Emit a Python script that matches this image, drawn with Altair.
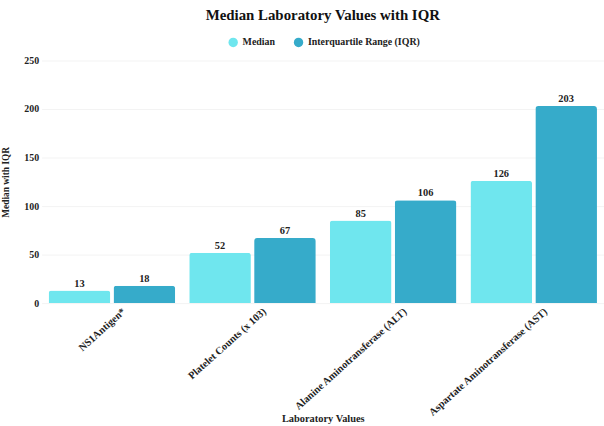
import altair as alt
import pandas as pd

categories = ["NS1Antigen*", "Platelet Counts (x 103)", "Alanine Aminotransferase (ALT)", "Aspartate Aminotransferase (AST)"]
median_values = [13, 52, 85, 126]
iqr_values = [18, 67, 106, 203]
series_names = ["Median", "Interquartile Range (IQR)"]
colors = ["#6fe6ee", "#36abca"]

rows = []
for c, m, q in zip(categories, median_values, iqr_values):
    rows.append({"Lab": c, "Series": series_names[0], "Value": m})
    rows.append({"Lab": c, "Series": series_names[1], "Value": q})
df = pd.DataFrame(rows)

FONT = "Liberation Serif"

x = alt.X("Lab:N", sort=categories, title="Laboratory Values",
          scale=alt.Scale(paddingInner=0.1, paddingOuter=0.05),
          axis=alt.Axis(labelAngle=-42, labelFontSize=10.5, labelFontWeight="bold",
                        labelFont=FONT, titleFont=FONT, titleFontSize=10.5, titleFontWeight="bold",
                        domain=False, ticks=False, labelPadding=3, labelLimit=300, labelOffset=9,
                        labelBound=False, titleY=117, titleBaseline="middle",
                        labelColor="#222", titleColor="#222"))
y = alt.Y("Value:Q", title="Median with IQR",
          scale=alt.Scale(domain=[0, 250]),
          axis=alt.Axis(values=[0, 50, 100, 150, 200, 250], labelFontSize=10, labelFontWeight="bold",
                        labelFont=FONT, titleFont=FONT, titleFontSize=9.5, titleFontWeight="bold",
                        domain=False, ticks=False, labelPadding=3, titlePadding=13,
                        gridColor="#f3f3f3", labelColor="#222", titleColor="#222"))
xo = alt.XOffset("Series:N", sort=series_names, scale=alt.Scale(paddingInner=0.05))
color = alt.Color("Series:N", sort=series_names,
                  scale=alt.Scale(domain=series_names, range=colors),
                  legend=alt.Legend(title=None, orient="none", legendX=188, legendY=-24,
                                    direction="horizontal", symbolType="circle", symbolSize=90,
                                    labelFont=FONT, labelFontSize=10, labelFontWeight="bold",
                                    labelColor="#222", columnPadding=18))

base = alt.Chart(df)
bars = base.mark_bar(cornerRadiusTopLeft=3, cornerRadiusTopRight=3).encode(
    x=x, y=y, xOffset=xo, color=color)
labels = base.mark_text(dy=-7, font=FONT, fontSize=10.5, fontWeight="bold", color="#222").encode(
    x=x, y=y, xOffset=xo, text="Value:Q")

chart = (bars + labels).properties(
    width=568, height=245,
    title=alt.TitleParams("Median Laboratory Values with IQR", font=FONT, fontSize=15,
                          fontWeight="bold", color="#111", anchor="middle", offset=14),
    autosize=alt.AutoSizeParams(type="none"),
    padding={"left": 42, "top": 59, "right": 0, "bottom": 122},
).configure_view(stroke=None)

chart.save("out.html", embed_options={"renderer": "svg", "actions": False})
